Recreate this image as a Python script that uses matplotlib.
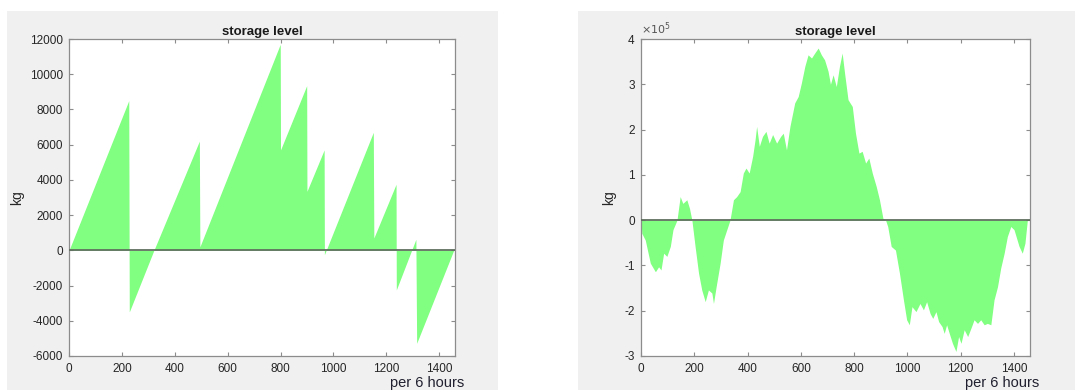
import matplotlib
matplotlib.use("Agg")
import matplotlib.pyplot as plt
from matplotlib.patches import Rectangle

# left panel: sawtooth storage level (kg), break points
steps_a = [0, 226, 228, 321, 493, 495, 799, 800, 899, 900, 965, 966,
           1151, 1153, 1237, 1238, 1312, 1315, 1455]
level_a = [0, 8500, -3500, 0, 6200, 200, 11700, 5700, 9350, 3350, 5700, -250,
           6700, 700, 3750, -2250, 630, -5280, 0]

# right panel: storage level in units of 1e5 kg
steps_b = [0, 3, 16, 35, 54, 66, 75, 85, 97, 110, 120, 135, 147, 157, 172, 182,
           191, 203, 216, 228, 241, 253, 266, 272, 282, 297, 309, 322, 334, 347,
           359, 372, 384, 394, 406, 419, 428, 434, 444, 456, 469, 481, 494, 509,
           524, 534, 546, 559, 577, 590, 602, 615, 627, 640, 652, 665, 677, 689,
           702, 711, 721, 733, 745, 755, 764, 777, 793, 805, 818, 830, 843, 855,
           868, 883, 895, 908, 918, 926, 939, 955, 970, 985, 997, 1007, 1017,
           1032, 1047, 1060, 1072, 1085, 1095, 1107, 1117, 1130, 1138, 1147,
           1157, 1169, 1182, 1192, 1201, 1213, 1226, 1238, 1250, 1263, 1275,
           1288, 1300, 1313, 1325, 1338, 1350, 1363, 1375, 1388, 1400, 1419,
           1431, 1441, 1450]
level_b = [0, -0.29, -0.44, -0.95, -1.14, -1.03, -1.10, -0.73, -0.80, -0.58,
           -0.21, 0, 0.52, 0.37, 0.45, 0.26, 0, -0.58, -1.17, -1.54, -1.80,
           -1.54, -1.61, -1.84, -1.47, -0.95, -0.44, -0.21, 0, 0.45, 0.52, 0.63,
           1.04, 1.15, 1.04, 1.41, 1.77, 2.07, 1.63, 1.85, 1.96, 1.70, 1.89,
           1.70, 1.85, 1.92, 1.55, 2.07, 2.59, 2.73, 3.03, 3.40, 3.65, 3.58,
           3.69, 3.80, 3.65, 3.54, 3.29, 3.00, 3.21, 2.95, 3.40, 3.69, 3.25,
           2.66, 2.51, 1.92, 1.48, 1.52, 1.26, 1.37, 1.04, 0.74, 0.45, 0.04, 0,
           -0.14, -0.58, -0.66, -1.17, -1.76, -2.20, -2.31, -1.91, -2.02, -1.84,
           -1.98, -1.80, -2.06, -2.17, -2.02, -2.24, -2.35, -2.50, -2.31, -2.50,
           -2.72, -2.90, -2.57, -2.72, -2.42, -2.57, -2.39, -2.20, -2.28, -2.20,
           -2.31, -2.28, -2.31, -1.76, -1.47, -1.06, -0.73, -0.36, -0.14, -0.21,
           -0.58, -0.73, -0.51, 0]

GREEN = "#80ff80"
plt.rcParams["font.family"] = ["Liberation Sans", "DejaVu Sans"]
plt.rcParams["axes.unicode_minus"] = False

fig = plt.figure(figsize=(10.75, 3.9), dpi=100)
W, H = 1075, 390
# grey figure panels like the matlab windows
fig.patches.append(Rectangle((7 / W, 0), 491 / W, 379 / H, transform=fig.transFigure,
                             facecolor="#f0f0f0", edgecolor="none", zorder=-10))
fig.patches.append(Rectangle((578 / W, 0), 497 / W, 379 / H, transform=fig.transFigure,
                             facecolor="#f0f0f0", edgecolor="none", zorder=-10))

ax1 = fig.add_axes([69 / W, 34 / H, 386 / W, 317 / H])
ax2 = fig.add_axes([641 / W, 34 / H, 389 / W, 317 / H])


def style(ax, ylab_x):
    ax.set_facecolor("white")
    for s in ax.spines.values():
        s.set_color("#8c8c8c")
        s.set_linewidth(0.9)
    ax.tick_params(direction="in", length=3, width=0.8, color="#8c8c8c",
                   top=True, right=True, labelsize=8.5, labelcolor="#262626")
    ax.tick_params(axis="y", pad=4.5)
    ax.tick_params(axis="x", pad=5)
    ax.set_title("storage level", fontsize=9.5, fontweight="bold",
                 color="#1a1a1a", pad=3)
    ax.set_ylabel("kg", fontsize=10, color="#262626")
    ax.yaxis.set_label_coords(ylab_x, 0.5)
    ax.text(1.025, -0.062, "per 6 hours", transform=ax.transAxes, ha="right",
            va="top", fontsize=10.5, color="#202030")
    ax.set_xlim(0, 1460)
    ax.set_xticks(range(0, 1401, 200))
    ax.axhline(0, color="#5f6f5f", linewidth=1.3, zorder=3)


ax1.fill_between(steps_a, level_a, 0, color=GREEN, linewidth=0)
style(ax1, -0.115)
ax1.set_ylim(-6000, 12000)
ax1.set_yticks(range(-6000, 12001, 2000))

ax2.fill_between(steps_b, level_b, 0, color=GREEN, linewidth=0)
style(ax2, -0.065)
ax2.set_ylim(-3, 4)
ax2.set_yticks(range(-3, 5))
ax2.text(0.0, 1.005, r"$\times10^{5}$", transform=ax2.transAxes, ha="left",
         va="bottom", fontsize=8, color="#555555")

fig.savefig("out.png", dpi=100)
